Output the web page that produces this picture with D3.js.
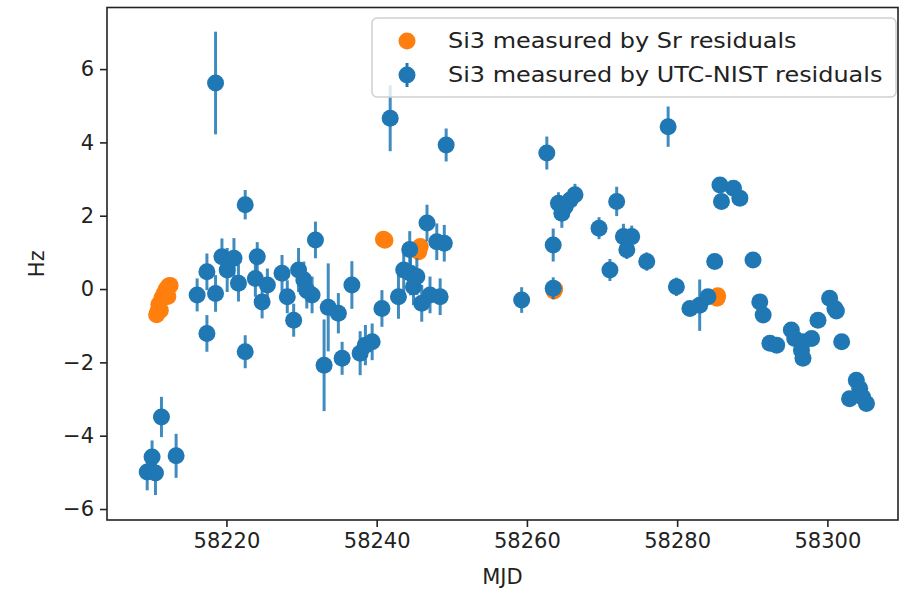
<!DOCTYPE html>
<html><head><meta charset="utf-8">
<script src="https://cdn.jsdelivr.net/npm/d3@7"></script>
<style>body{margin:0;background:#fff}</style>
</head><body>
<svg id="c" width="901" height="594"></svg>
<script>
// ---- data ----
const srMJD = [58210.7,58210.85,58211.0,58211.2,58211.4,58211.7,58211.9,58212.0,58212.2,58212.3,58212.5,58240.9,58241.1,58245.6,58245.8,58263.6,58263.7,58285.3,58285.4];
const srHz  = [-0.7,-0.62,-0.42,-0.58,-0.25,-0.12,-0.1,0.0,-0.2,0.08,0.1,1.36,1.33,1.02,1.16,-0.05,0.0,-0.25,-0.18];

const nistMJD = [58209.45,58210.1,58210.55,58211.35,58213.3,
 58216.1,58217.4,58217.4,58218.55,58218.55,58219.4,58220.1,58221.0,58221.6,58222.5,58222.5,58223.85,58224.1,58224.75,58225.45,
 58227.4,58228.1,58228.95,58229.6,58230.3,58230.7,58231.4,58231.85,58233.0,58233.55,58234.9,58235.4,58236.7,58237.8,58238.5,58239.4,
 58240.7,58241.8,58242.9,58243.6,58244.4,58244.5,58244.9,58245.35,58246.0,58246.7,58247.1,58248.0,58248.45,58249.0,58249.25,
 58259.3,58262.65,58263.5,58263.5,58264.2,58264.65,58265.1,58265.75,58266.4,58269.6,58271.05,58271.95,58272.85,58273.3,58273.95,58275.95,
 58278.8,58279.9,58281.7,58283.0,58284.1,58285.0,58285.7,58285.9,58287.5,58288.35,58290.1,58291.0,58291.45,58292.35,58293.25,
 58295.2,58295.65,58296.55,58296.75,58296.75,58297.9,58298.75,58300.3,58301.0,58301.2,58301.9,58302.95,58303.85,58304.3,58304.7,58305.2];
const nistHz = [-4.99,-4.58,-5.02,-3.49,-4.55,
 -0.16,0.47,-1.21,5.62,-0.12,0.88,0.52,0.84,0.16,2.3,-1.71,0.29,0.88,-0.35,0.11,
 0.43,-0.21,-0.85,0.52,0.25,-0.03,-0.16,1.34,-2.08,-0.5,-0.66,-1.89,0.11,-1.75,-1.53,-1.44,
 -0.53,4.66,-0.21,0.52,1.08,0.43,0.06,0.34,-0.39,1.8,-0.16,1.29,-0.21,1.25,3.93,
 -0.3,3.71,1.2,0.02,2.34,2.07,2.25,2.43,2.57,1.66,0.52,2.39,1.43,1.07,1.43,0.75,
 4.43,0.06,-0.53,-0.44,-0.21,0.75,2.84,2.39,2.75,2.48,0.79,-0.35,-0.71,-1.48,-1.53,
 -1.12,-1.35,-1.67,-1.44,-1.89,-1.35,-0.85,-0.25,-0.53,-0.6,-1.44,-2.99,-2.49,-2.71,-2.95,-3.12];
const nistErr = [0.5,0.45,0.6,0.55,0.6,
 0.45,0.5,0.5,1.4,0.5,0.5,0.6,0.55,0.5,0.4,0.45,0.5,0.4,0.45,0.45,
 0.5,0.45,0.45,0.6,0.5,0.5,0.5,0.5,1.25,1.2,0.55,0.45,0.65,0.6,0.55,0.5,
 0.5,0.9,0.6,0.6,0.5,0.6,0.5,0.5,0.5,0.5,0.5,0.5,0.5,0.5,0.45,
 0.35,0.45,0.45,0.3,0.3,0.4,0.3,0.3,0.3,0.3,0.3,0.4,0.35,0.25,0.3,0.25,
 0.55,0.25,0.1,0.7,0.1,0.1,0.1,0.1,0.1,0.1,0.1,0.1,0.1,0.1,0.1,
 0.1,0.1,0.1,0.1,0.1,0.1,0.1,0.1,0.1,0.1,0.1,0.1,0.1,0.1,0.1,0.1];

const xTicks = [58220,58240,58260,58280,58300];
const yTicks = [-6,-4,-2,0,2,4,6];
const legendLabels = ["Si3 measured by Sr residuals","Si3 measured by UTC-NIST residuals"];
const xLabel = "MJD", yLabel = "Hz";

// ---- drawing ----
const L = 107, R = 898, T = 7.5, B = 520;
const blue = "#1f77b4", orange = "#ff7f0e";
const font = "DejaVu Sans, sans-serif", fs = 21;
const svg = d3.select("#c");
const x = d3.scaleLinear().domain([58204.1, 58309.4]).range([L, R]);
const y = d3.scaleLinear().domain([-6.3, 7.68]).range([B, T]);

// axes
const gx = svg.append("g").attr("transform", `translate(0,${B})`)
  .call(d3.axisBottom(x).tickValues(xTicks).tickFormat(d3.format("d")).tickSize(7).tickPadding(6));
const gy = svg.append("g").attr("transform", `translate(${L},0)`)
  .call(d3.axisLeft(y).tickValues(yTicks).tickFormat(d => d < 0 ? "\u2212" + Math.abs(d) : d).tickSize(7).tickPadding(6));
[gx, gy].forEach(g => {
  g.select(".domain").remove();
  g.selectAll(".tick line").attr("stroke", "#222").attr("stroke-width", 1.6);
  g.selectAll(".tick text").attr("fill", "#222").style("font-family", font).style("font-size", fs + "px");
});

// data: orange scatter first, then error bars on top
const sr = srMJD.map((m, i) => ({m, v: srHz[i]}));
const nist = nistMJD.map((m, i) => ({m, v: nistHz[i], e: nistErr[i]}));

const plot = svg.append("g");
plot.selectAll("circle.sr").data(sr).join("circle").attr("class", "sr")
  .attr("cx", d => x(d.m)).attr("cy", d => y(d.v)).attr("r", 8.5).attr("fill", orange);

plot.selectAll("line.eb").data(nist).join("line").attr("class", "eb")
  .attr("x1", d => x(d.m)).attr("x2", d => x(d.m))
  .attr("y1", d => y(d.v - d.e)).attr("y2", d => y(d.v + d.e))
  .attr("stroke", blue).attr("stroke-width", 3).attr("stroke-opacity", 0.85);
plot.selectAll("circle.ni").data(nist).join("circle").attr("class", "ni")
  .attr("cx", d => x(d.m)).attr("cy", d => y(d.v)).attr("r", 8.5).attr("fill", blue);

// spines
svg.append("rect").attr("x", L).attr("y", T).attr("width", R - L).attr("height", B - T)
  .attr("fill", "none").attr("stroke", "#222").attr("stroke-width", 1.6);

// axis labels
svg.append("text").attr("x", (L + R) / 2).attr("y", 584).attr("text-anchor", "middle")
  .style("font-family", font).style("font-size", fs + "px").attr("fill", "#222").text(xLabel);
svg.append("text").attr("transform", `translate(44,${(T + B) / 2}) rotate(-90)`).attr("text-anchor", "middle")
  .style("font-family", font).style("font-size", fs + "px").attr("fill", "#222").text(yLabel);

// legend
const lg = svg.append("g");
lg.append("rect").attr("x", 372).attr("y", 18).attr("width", 524).attr("height", 79).attr("rx", 5)
  .attr("fill", "#fff").attr("fill-opacity", 0.8).attr("stroke", "#d0d0d0").attr("stroke-width", 1.5);
const items = legendLabels.map((t, i) => ({t, i}));
lg.selectAll("text").data(items).join("text")
  .attr("transform", d => `translate(448,${41 + d.i * 34}) scale(1.14,1)`).attr("dy", "0.35em")
  .style("font-family", font).style("font-size", fs + "px").attr("fill", "#222").text(d => d.t);
lg.append("circle").attr("cx", 407).attr("cy", 41).attr("r", 8.5).attr("fill", orange);
lg.append("line").attr("x1", 407).attr("x2", 407).attr("y1", 63).attr("y2", 87).attr("stroke", blue).attr("stroke-width", 3);
lg.append("circle").attr("cx", 407).attr("cy", 75).attr("r", 8.5).attr("fill", blue);
</script>
</body></html>
